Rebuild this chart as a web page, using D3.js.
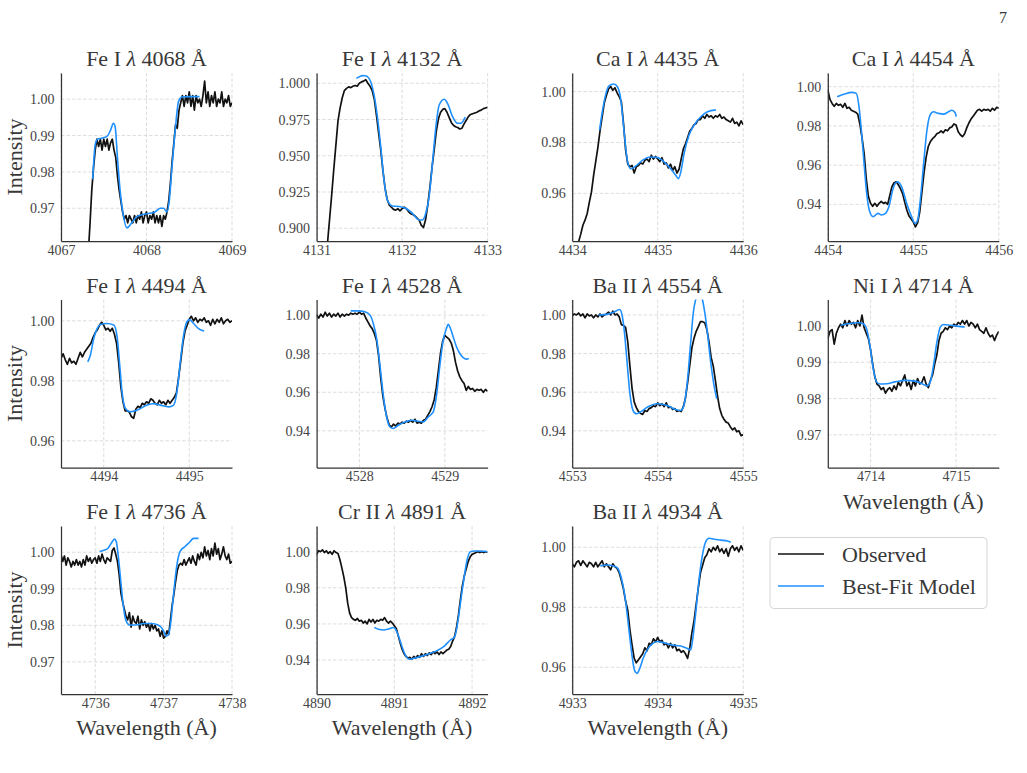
<!DOCTYPE html>
<html>
<head>
<meta charset="utf-8">
<script src="https://cdn.jsdelivr.net/npm/d3@7"></script>
<style>
  body { margin: 0; background: #fff; }
  svg text { font-family: "Liberation Serif", "Times New Roman", serif; fill: #383838; }
</style>
</head>
<body>
<svg id="chart" width="1027" height="773"></svg>
<script>
// ---------- line list ----------
const lineSpecies = ["Fe I", "Fe I", "Ca I", "Ca I", "Fe I", "Fe I", "Ba II", "Ni I", "Fe I", "Cr II", "Ba II"];
const lineCenters = [4068, 4132, 4435, 4454, 4494, 4528, 4554, 4714, 4736, 4891, 4934];

// axis limits and ticks
const xLimits = [[4067, 4069], [4131, 4133], [4434, 4436], [4454, 4456], [4493.5, 4495.5], [4527.5, 4529.5],
                 [4553, 4555], [4713.5, 4715.5], [4735.5, 4738], [4890, 4892.2], [4933, 4935]];
const yLimits = [[0.961, 1.0072], [0.8912, 1.0071], [0.9413, 1.0073], [0.9213, 1.007], [0.9511, 1.0071], [0.921, 1.0081],
                 [0.921, 1.008], [0.961, 1.0073], [0.9612, 1.0072], [0.9212, 1.0142], [0.9511, 1.0071]];
const xTickValues = [[4067, 4068, 4069], [4131, 4132, 4133], [4434, 4435, 4436], [4454, 4455, 4456], [4494, 4495], [4528, 4529],
                     [4553, 4554, 4555], [4714, 4715], [4736, 4737, 4738], [4890, 4891, 4892], [4933, 4934, 4935]];
const yTickValues = [[0.97, 0.98, 0.99, 1.00], [0.900, 0.925, 0.950, 0.975, 1.000], [0.96, 0.98, 1.00], [0.94, 0.96, 0.98, 1.00],
                     [0.96, 0.98, 1.00], [0.94, 0.96, 0.98, 1.00], [0.94, 0.96, 0.98, 1.00], [0.97, 0.98, 0.99, 1.00],
                     [0.97, 0.98, 0.99, 1.00], [0.94, 0.96, 0.98, 1.00], [0.96, 0.98, 1.00]];
const yTickFormats = [".2f", ".3f", ".2f", ".2f", ".2f", ".2f", ".2f", ".2f", ".2f", ".2f", ".2f"];

// observed spectra: first wavelength and pixel step of each cut-out
const obsStart = [4067.30, 4131.125, 4434.05, 4454.0, 4493.5, 4527.5, 4553.0, 4713.5, 4735.5, 4890.0, 4933.0];
const obsStep  = [0.02, 0.025, 0.025, 0.025, 0.025, 0.025, 0.025, 0.025, 0.025, 0.025, 0.025];

const obs4068 = [0.952,0.958,0.966,0.975,0.981,0.986,0.989,0.987,0.989,0.986,
  0.989,0.987,0.989,0.986,0.988,0.989,0.986,0.984,0.979,0.975,
  0.972,0.969,0.967,0.968,0.966,0.968,0.967,0.966,0.968,0.966,
  0.968,0.967,0.969,0.966,0.968,0.969,0.966,0.968,0.967,0.969,
  0.966,0.968,0.966,0.968,0.965,0.968,0.967,0.969,0.972,0.977,
  0.983,0.988,0.993,0.992,0.997,0.999,1.001,0.998,1.001,0.999,
  1.002,0.998,1.001,0.997,1.001,0.999,1.000,0.998,1.001,1.005,
  0.999,1.002,0.998,1.001,0.999,1.002,0.998,1.000,0.999,1.002,
  0.998,1.000,0.999,1.001,0.998,0.999];
const obs4132 = [0.888,0.905,0.922,0.940,0.957,0.974,0.983,0.990,0.995,0.9965,
  0.9975,0.997,0.998,0.9985,0.998,1.000,1.001,1.0015,1.0025,1.000,
  0.998,0.995,0.989,0.978,0.966,0.954,0.940,0.928,0.920,0.916,
  0.9145,0.913,0.9125,0.9135,0.912,0.9135,0.9145,0.9135,0.9115,0.910,
  0.9095,0.9085,0.907,0.9055,0.902,0.9005,0.906,0.916,0.928,0.942,
  0.954,0.967,0.9755,0.980,0.982,0.9825,0.980,0.9765,0.973,0.971,
  0.970,0.9695,0.9685,0.969,0.972,0.9745,0.977,0.9785,0.979,0.9795,
  0.980,0.981,0.9815,0.9825,0.983,0.9835];
const obs4435 = [0.937,0.941,0.944,0.9475,0.9495,0.952,0.9565,0.9605,0.967,0.9725,
  0.978,0.9845,0.990,0.9955,0.9985,1.001,1.002,1.0005,1.0015,0.9995,
  0.998,0.996,0.9875,0.977,0.9715,0.9705,0.971,0.968,0.9705,0.971,
  0.972,0.9715,0.973,0.9735,0.9725,0.975,0.9735,0.9745,0.9735,0.9725,
  0.974,0.9715,0.972,0.970,0.9715,0.969,0.9705,0.968,0.9695,0.9735,
  0.9775,0.9795,0.982,0.9845,0.9855,0.987,0.9875,0.989,0.989,0.9905,
  0.9895,0.991,0.990,0.9905,0.9895,0.9905,0.990,0.991,0.9895,0.990,
  0.989,0.9885,0.988,0.9895,0.9875,0.988,0.9865,0.9885,0.987];
const obs4454 = [0.9985,0.9935,0.9915,0.990,0.9915,0.9905,0.991,0.9895,0.9915,0.989,
  0.9895,0.988,0.9875,0.987,0.986,0.981,0.974,0.966,0.953,0.944,
  0.9405,0.939,0.9405,0.939,0.9405,0.9415,0.9405,0.941,0.940,0.9445,
  0.949,0.951,0.9515,0.950,0.948,0.9455,0.941,0.937,0.934,0.9325,
  0.931,0.9285,0.9305,0.936,0.946,0.956,0.964,0.9695,0.972,0.9735,
  0.9745,0.976,0.9765,0.9775,0.9765,0.978,0.9775,0.979,0.9795,0.981,
  0.9805,0.977,0.9755,0.9745,0.976,0.979,0.9815,0.9835,0.985,0.9865,
  0.988,0.9885,0.9875,0.9885,0.988,0.9885,0.9875,0.989,0.988,0.9895,
  0.989];
const obs4494 = [0.9875,0.989,0.987,0.9855,0.9875,0.986,0.9865,0.9855,0.9875,0.9895,
  0.988,0.9895,0.9905,0.9915,0.9925,0.9945,0.996,0.997,0.9985,0.9995,
  0.9985,0.997,0.9975,0.9965,0.9975,0.9955,0.9925,0.986,0.978,0.973,
  0.970,0.970,0.9695,0.968,0.9675,0.9705,0.9715,0.971,0.9725,0.972,
  0.973,0.9725,0.974,0.9735,0.9725,0.972,0.9735,0.9725,0.973,0.972,
  0.9735,0.9725,0.9735,0.9745,0.976,0.981,0.9865,0.9925,0.9965,0.9985,
  1.0005,1.0015,1.000,1.001,0.9995,1.0005,1.000,1.001,0.9995,1.000,
  0.9985,1.0005,0.999,1.0005,0.9995,1.001,0.999,1.000,1.0005,0.9995,
  1.000];
const obs4528 = [1.000,0.9985,1.0005,0.999,1.0015,0.9995,1.001,0.999,1.0005,0.9995,
  1.001,0.999,1.0005,0.9995,1.0005,1.000,1.001,1.0005,1.001,1.0005,
  1.0015,1.0005,1.001,0.9985,0.9965,0.9945,0.993,0.9905,0.987,0.979,
  0.9675,0.958,0.9515,0.9465,0.943,0.942,0.9435,0.9425,0.944,0.9435,
  0.9445,0.944,0.945,0.9445,0.9455,0.9445,0.946,0.944,0.9445,0.944,
  0.9455,0.946,0.948,0.950,0.9525,0.956,0.9625,0.9715,0.9805,0.9865,
  0.9895,0.9885,0.9875,0.9855,0.9815,0.9755,0.971,0.968,0.966,0.9645,
  0.961,0.963,0.9615,0.962,0.9605,0.9615,0.961,0.9615,0.960,0.9615,
  0.9605];
const obs4554 = [0.9995,1.0005,1.000,1.001,0.9995,1.0005,0.9985,1.0005,0.9995,1.000,
  0.9985,1.000,0.999,1.0005,0.999,1.000,1.0005,1.0015,1.000,1.002,
  1.000,1.0005,0.999,0.995,0.9945,0.9935,0.986,0.9735,0.962,0.955,
  0.952,0.950,0.949,0.9485,0.9505,0.950,0.9515,0.952,0.953,0.9525,
  0.9545,0.953,0.954,0.9525,0.9545,0.952,0.9525,0.951,0.9515,0.950,
  0.9505,0.950,0.9525,0.957,0.965,0.974,0.983,0.988,0.9915,0.994,
  0.9965,0.9965,0.996,0.9925,0.986,0.978,0.9735,0.966,0.958,0.9515,
  0.948,0.946,0.9445,0.944,0.942,0.9405,0.9415,0.9395,0.940,0.9375,
  0.938];
const obs4714 = [0.9965,0.9985,0.999,0.995,0.998,0.9995,1.0005,0.9995,1.0015,1.000,
  1.0015,1.0005,1.001,0.9995,1.0015,1.000,1.003,0.9995,0.998,0.9965,
  0.9935,0.9895,0.986,0.984,0.9835,0.9825,0.983,0.9815,0.9825,0.983,
  0.982,0.9835,0.9825,0.9845,0.9835,0.985,0.9865,0.9835,0.9845,0.9825,
  0.985,0.9835,0.9855,0.984,0.9845,0.986,0.984,0.983,0.985,0.9865,
  0.9895,0.992,0.996,0.998,0.9985,0.9995,0.999,1.000,0.9995,1.0005,
  1.000,1.001,1.0005,1.0015,1.0005,1.0015,1.000,1.001,1.0005,0.9995,
  1.0005,0.999,0.9985,0.998,0.9995,0.998,0.997,0.9975,0.996,0.9975,
  0.9985];
const obs4736 = [0.9995,0.9975,0.999,0.9965,0.9985,0.9975,0.996,0.9975,0.9965,0.998,
  0.9965,0.9975,0.996,0.998,0.9965,0.999,0.9975,0.9985,0.997,0.998,
  0.9985,0.997,0.999,0.9975,0.9995,0.998,0.997,0.9985,0.998,0.9975,
  1.0005,1.0012,0.9995,0.9975,0.994,0.989,0.9865,0.9845,0.9825,0.9815,
  0.9835,0.9795,0.9825,0.981,0.9805,0.9825,0.979,0.9815,0.980,0.981,
  0.9795,0.9805,0.9785,0.9805,0.979,0.980,0.9785,0.979,0.977,0.9785,
  0.9765,0.977,0.9785,0.9775,0.9815,0.9855,0.9885,0.992,0.995,0.9965,
  0.997,0.9965,0.998,0.9965,0.9975,0.9985,0.997,0.999,0.9975,0.9965,
  0.9995,0.998,1.000,0.9985,1.0015,0.999,1.0005,0.998,1.001,0.999,
  1.0025,0.9995,1.001,0.998,0.9995,1.0015,0.999,0.998,0.9995,0.997,
  0.9975];
const obs4891 = [0.9985,1.0005,1.000,1.001,0.9995,1.0005,0.999,1.000,0.9985,1.0005,
  0.9995,0.999,0.9955,0.991,0.986,0.980,0.9715,0.966,0.9635,0.9625,
  0.962,0.963,0.9615,0.962,0.9605,0.9615,0.960,0.9625,0.961,0.9625,
  0.9605,0.962,0.9615,0.9625,0.962,0.9635,0.9615,0.9605,0.9615,0.9605,
  0.959,0.9575,0.9535,0.9495,0.946,0.9435,0.942,0.941,0.9415,0.9405,
  0.942,0.941,0.9425,0.9415,0.9435,0.942,0.9435,0.9425,0.944,0.943,
  0.9445,0.9435,0.9445,0.943,0.9445,0.9435,0.9445,0.9455,0.946,0.9475,
  0.9505,0.953,0.958,0.965,0.9735,0.981,0.9865,0.9905,0.9945,0.997,
  0.9985,0.999,0.9995,1.000,0.9995,1.000,0.9995,1.000,0.9995];
const obs4934 = [0.9945,0.9935,0.995,0.9955,0.994,0.9955,0.9945,0.9935,0.995,0.9945,
  0.9935,0.995,0.9935,0.9945,0.9955,0.9935,0.9945,0.9935,0.9925,0.9945,
  0.9935,0.993,0.9915,0.989,0.986,0.982,0.979,0.9725,0.9675,0.963,
  0.9615,0.9625,0.9635,0.9645,0.9665,0.9655,0.968,0.9675,0.9695,0.9685,
  0.970,0.9685,0.969,0.9675,0.968,0.9665,0.968,0.9665,0.9675,0.9655,
  0.966,0.965,0.9655,0.9645,0.963,0.9665,0.9715,0.9755,0.981,0.9865,
  0.9915,0.994,0.9965,0.9975,0.9995,0.9985,1.000,0.999,1.0005,0.9985,
  0.9995,0.998,0.9995,0.997,0.9995,1.0005,0.999,1.000,0.9985,1.0005,
  0.999];

// best-fit model, [wavelength, intensity]
const fit4068 = [[4067.371,0.978],[4067.40,0.9875],[4067.426,0.989],[4067.48,0.9893],[4067.535,0.9897],[4067.58,0.9915],
  [4067.613,0.9934],[4067.633,0.9925],[4067.66,0.984],[4067.691,0.975],[4067.73,0.968],[4067.77,0.9646],[4067.828,0.966],
  [4067.887,0.9677],[4068.004,0.9685],[4068.10,0.969],[4068.16,0.970],[4068.20,0.970],[4068.238,0.969],[4068.266,0.972],
  [4068.297,0.981],[4068.336,0.9915],[4068.375,0.9994],[4068.414,1.0006],[4068.50,1.0007],[4068.62,1.0007]];
const fit4132 = [[4131.465,1.0034],[4131.50,1.0045],[4131.535,1.0053],[4131.565,1.0052],[4131.594,1.0046],[4131.633,1.001],
  [4131.672,0.992],[4131.711,0.977],[4131.75,0.9563],[4131.789,0.933],[4131.828,0.9195],[4131.887,0.9154],[4131.965,0.915],
  [4132.043,0.9138],[4132.121,0.9103],[4132.20,0.9057],[4132.238,0.9057],[4132.277,0.9103],[4132.316,0.9218],[4132.355,0.9448],
  [4132.395,0.970],[4132.434,0.985],[4132.492,0.989],[4132.531,0.9862],[4132.59,0.977],[4132.648,0.9724],[4132.688,0.9724],
  [4132.738,0.9766]];
const fit4435 = [[4434.32,0.9849],[4434.352,0.992],[4434.391,0.9987],[4434.43,1.0022],[4434.488,1.003],[4434.527,1.002],
  [4434.566,0.9974],[4434.605,0.9849],[4434.645,0.973],[4434.684,0.9697],[4434.742,0.9707],[4434.82,0.973],[4434.918,0.9743],
  [4434.996,0.9741],[4435.074,0.9724],[4435.152,0.9697],[4435.211,0.9671],[4435.242,0.9658],[4435.27,0.9684],[4435.309,0.9757],
  [4435.367,0.9829],[4435.426,0.9868],[4435.504,0.9901],[4435.582,0.9921],[4435.68,0.9928]];
const fit4454 = [[4454.11,0.9949],[4454.196,0.9963],[4454.282,0.9971],[4454.333,0.9966],[4454.365,0.9898],[4454.392,0.978],
  [4454.424,0.961],[4454.455,0.9456],[4454.49,0.9363],[4454.529,0.9337],[4454.588,0.9354],[4454.627,0.9346],[4454.675,0.9354],
  [4454.714,0.9388],[4454.765,0.9482],[4454.812,0.9515],[4454.863,0.949],[4454.922,0.9405],[4454.98,0.9337],[4455.02,0.9303],
  [4455.051,0.932],[4455.078,0.9405],[4455.118,0.9593],[4455.157,0.977],[4455.196,0.9855],[4455.235,0.9872],[4455.294,0.9864],
  [4455.353,0.986],[4455.412,0.9872],[4455.451,0.988],[4455.49,0.9867],[4455.502,0.9847]];
const fit4494 = [[4493.813,0.9863],[4493.844,0.9886],[4493.883,0.9941],[4493.922,0.9974],[4493.961,0.9988],[4494.039,0.9991],
  [4494.117,0.9986],[4494.156,0.9947],[4494.187,0.9852],[4494.214,0.9763],[4494.253,0.9708],[4494.311,0.9697],[4494.389,0.9702],
  [4494.506,0.9719],[4494.584,0.9724],[4494.661,0.9719],[4494.759,0.9713],[4494.817,0.9719],[4494.856,0.9763],[4494.895,0.9863],
  [4494.934,0.9952],[4494.973,0.9997],[4495.004,1.0004],[4495.051,0.9991],[4495.109,0.9974],[4495.175,0.9966]];
const fit4528 = [[4527.899,1.0022],[4527.988,1.0022],[4528.066,1.0017],[4528.125,1.000],[4528.163,0.9957],[4528.202,0.9879],
  [4528.241,0.974],[4528.28,0.9585],[4528.319,0.9472],[4528.358,0.942],[4528.397,0.9412],[4528.455,0.9429],[4528.533,0.9446],
  [4528.611,0.9455],[4528.689,0.945],[4528.747,0.9446],[4528.805,0.9472],[4528.864,0.9498],[4528.903,0.9585],[4528.942,0.974],
  [4528.981,0.987],[4529.019,0.9931],[4529.039,0.9952],[4529.058,0.9939],[4529.097,0.9888],[4529.136,0.9836],[4529.175,0.9801],
  [4529.214,0.978],[4529.253,0.9772],[4529.28,0.9775]];
const fit4554 = [[4553.309,1.000],[4553.407,1.0003],[4553.485,1.0014],[4553.556,1.0028],[4553.583,1.000],[4553.611,0.991],
  [4553.642,0.9755],[4553.673,0.960],[4553.712,0.9505],[4553.751,0.9488],[4553.798,0.9497],[4553.877,0.9522],[4553.994,0.954],
  [4554.112,0.9531],[4554.209,0.951],[4554.268,0.9505],[4554.307,0.9531],[4554.346,0.9652],[4554.386,0.9859],[4554.417,1.0014],
  [4554.444,1.008],[4554.483,1.012],[4554.523,1.008],[4554.55,1.0014],[4554.581,0.991],[4554.62,0.9755],[4554.659,0.9634],
  [4554.691,0.9566]];
const fit4714 = [[4713.651,1.0002],[4713.737,1.0006],[4713.855,1.0009],[4713.914,1.0006],[4713.953,0.9993],[4713.992,0.9947],
  [4714.031,0.9883],[4714.071,0.9846],[4714.11,0.984],[4714.188,0.9841],[4714.286,0.9846],[4714.404,0.985],[4714.522,0.9848],
  [4714.6,0.9841],[4714.659,0.9835],[4714.698,0.9846],[4714.737,0.9892],[4714.776,0.9956],[4714.816,0.9997],[4714.855,1.0004],
  [4714.933,1.0002],[4715.031,0.9999],[4715.102,0.9997]];
const fit4736 = [[4736.064,1.0002],[4736.137,1.0006],[4736.186,1.0011],[4736.235,1.0025],[4736.284,1.0036],[4736.309,1.0029],
  [4736.333,0.9997],[4736.368,0.9933],[4736.407,0.986],[4736.446,0.9815],[4736.505,0.9801],[4736.603,0.9801],[4736.701,0.9805],
  [4736.824,0.9805],[4736.922,0.9801],[4736.995,0.9787],[4737.034,0.9771],[4737.069,0.9774],[4737.103,0.9805],[4737.142,0.9879],
  [4737.191,0.9961],[4737.24,1.0002],[4737.314,1.0016],[4737.387,1.0029],[4737.436,1.0038],[4737.51,1.0038]];
const fit4891 = [[4890.742,0.9581],[4890.798,0.957],[4890.863,0.9566],[4890.927,0.9572],[4890.991,0.958],[4891.021,0.9566],
  [4891.056,0.953],[4891.099,0.9474],[4891.142,0.9428],[4891.193,0.9404],[4891.249,0.941],[4891.335,0.9419],[4891.442,0.9434],
  [4891.549,0.9452],[4891.635,0.9474],[4891.721,0.9511],[4891.777,0.953],[4891.807,0.9585],[4891.85,0.9714],[4891.893,0.9843],
  [4891.936,0.9954],[4891.979,1.000],[4892.043,1.0004],[4892.107,1.0004],[4892.193,1.000]];
const fit4934 = [[4933.329,0.9938],[4933.407,0.9941],[4933.485,0.9938],[4933.532,0.993],[4933.571,0.9902],[4933.611,0.9847],
  [4933.642,0.978],[4933.673,0.9702],[4933.701,0.9636],[4933.728,0.9591],[4933.759,0.958],[4933.791,0.9597],[4933.83,0.963],
  [4933.877,0.9658],[4933.935,0.9678],[4933.994,0.9686],[4934.072,0.9682],[4934.17,0.9674],[4934.268,0.9671],[4934.346,0.9663],
  [4934.386,0.9658],[4934.413,0.9702],[4934.444,0.978],[4934.483,0.9891],[4934.523,0.9974],[4934.562,1.0019],[4934.601,1.003],
  [4934.659,1.0027],[4934.738,1.0024],[4934.816,1.0021],[4934.855,1.0017]];

const obsFlux = [obs4068, obs4132, obs4435, obs4454, obs4494, obs4528, obs4554, obs4714, obs4736, obs4891, obs4934];
const fitCurves = [fit4068, fit4132, fit4435, fit4454, fit4494, fit4528, fit4554, fit4714, fit4736, fit4891, fit4934];
const legendLabels = ["Observed", "Best-Fit Model"];

// ---------- layout ----------
const obsColor = "#111", fitColor = "#1e90ff";
const plotW = 171, plotH = 168;
const colX = [61, 316.6, 572.2, 827.8];
const rowY = [73, 299.5, 526];

const svg = d3.select("#chart");

function drawPanel(i) {
    const col = i % 4, row = Math.floor(i / 4);
    const x = d3.scaleLinear().domain(xLimits[i]).range([0, plotW]);
    const y = d3.scaleLinear().domain(yLimits[i]).range([plotH, 0]);

    const g = svg.append("g").attr("transform", `translate(${colX[col]},${rowY[row]})`);

    g.append("clipPath").attr("id", "clip" + i)
        .append("rect").attr("width", plotW).attr("height", plotH);

    // dashed grid
    const grid = g.append("g").attr("stroke", "#d4d4d4").attr("stroke-width", 0.8).attr("stroke-dasharray", "3.5,2");
    grid.selectAll(".gx").data(xTickValues[i]).join("line")
        .attr("x1", d => x(d)).attr("x2", d => x(d)).attr("y1", 0).attr("y2", plotH);
    grid.selectAll(".gy").data(yTickValues[i]).join("line")
        .attr("x1", 0).attr("x2", plotW).attr("y1", d => y(d)).attr("y2", d => y(d));

    const lines = g.append("g").attr("clip-path", `url(#clip${i})`);
    const obsPts = obsFlux[i].map((f, k) => [obsStart[i] + k * obsStep[i], f]);

    lines.append("path").datum(obsPts)
        .attr("fill", "none").attr("stroke", obsColor).attr("stroke-width", 1.7).attr("stroke-linejoin", "round")
        .attr("d", d3.line().x(d => x(d[0])).y(d => y(d[1])));
    lines.append("path").datum(fitCurves[i])
        .attr("fill", "none").attr("stroke", fitColor).attr("stroke-width", 1.6)
        .attr("d", d3.line().x(d => x(d[0])).y(d => y(d[1])).curve(d3.curveMonotoneX));

    // axes (spines on left and bottom only)
    const xAxis = g.append("g").attr("transform", `translate(0,${plotH})`)
        .call(d3.axisBottom(x).tickValues(xTickValues[i]).tickFormat(d3.format("d")).tickSize(0).tickPadding(4));
    const yAxis = g.append("g")
        .call(d3.axisLeft(y).tickValues(yTickValues[i]).tickFormat(d3.format(yTickFormats[i])).tickSize(0).tickPadding(6.5));
    [xAxis, yAxis].forEach(a => {
        a.attr("font-family", null).attr("font-size", null);
        a.select(".domain").attr("stroke", "#333").attr("stroke-width", 1.25);
        a.selectAll("text").attr("font-size", 14).style("fill", "#444");
    });

    // title: species, italic lambda, wavelength
    const title = g.append("text").attr("x", plotW / 2).attr("y", -7)
        .attr("text-anchor", "middle").attr("font-size", 22);
    title.append("tspan").text(lineSpecies[i] + " ");
    title.append("tspan").attr("font-style", "italic").text("λ");
    title.append("tspan").text(" " + lineCenters[i] + " Å");

    if (col === 0) {
        g.append("text").attr("transform", `translate(${22 - colX[0]},${plotH / 2}) rotate(-90)`)
            .attr("text-anchor", "middle").attr("font-size", 22).text("Intensity");
    }
    if (row === 2 || i === 7) {
        g.append("text").attr("x", plotW / 2).attr("y", plotH + 41)
            .attr("text-anchor", "middle").attr("font-size", 22).text("Wavelength (Å)");
    }
}

lineCenters.forEach((c, i) => drawPanel(i));

// legend in the empty slot
const legend = svg.append("g").attr("transform", "translate(770,537.5)");
legend.append("rect").attr("width", 217).attr("height", 71).attr("rx", 4)
    .attr("fill", "#fff").attr("stroke", "#d6d6d6").attr("stroke-width", 1);
legend.selectAll(".item").data(legendLabels).join("g")
    .attr("transform", (d, k) => `translate(0,${16.5 + k * 32})`)
    .each(function(d, k) {
        const it = d3.select(this);
        it.append("line").attr("x1", 8).attr("x2", 54).attr("y1", 0).attr("y2", 0)
            .attr("stroke", k === 0 ? obsColor : fitColor).attr("stroke-width", 1.6);
        it.append("text").attr("x", 72).attr("y", 7.5).attr("font-size", 22).text(d);
    });

// page number
svg.append("text").attr("x", 1003).attr("y", 23).attr("text-anchor", "middle").attr("font-size", 16).text("7");
</script>
</body>
</html>
